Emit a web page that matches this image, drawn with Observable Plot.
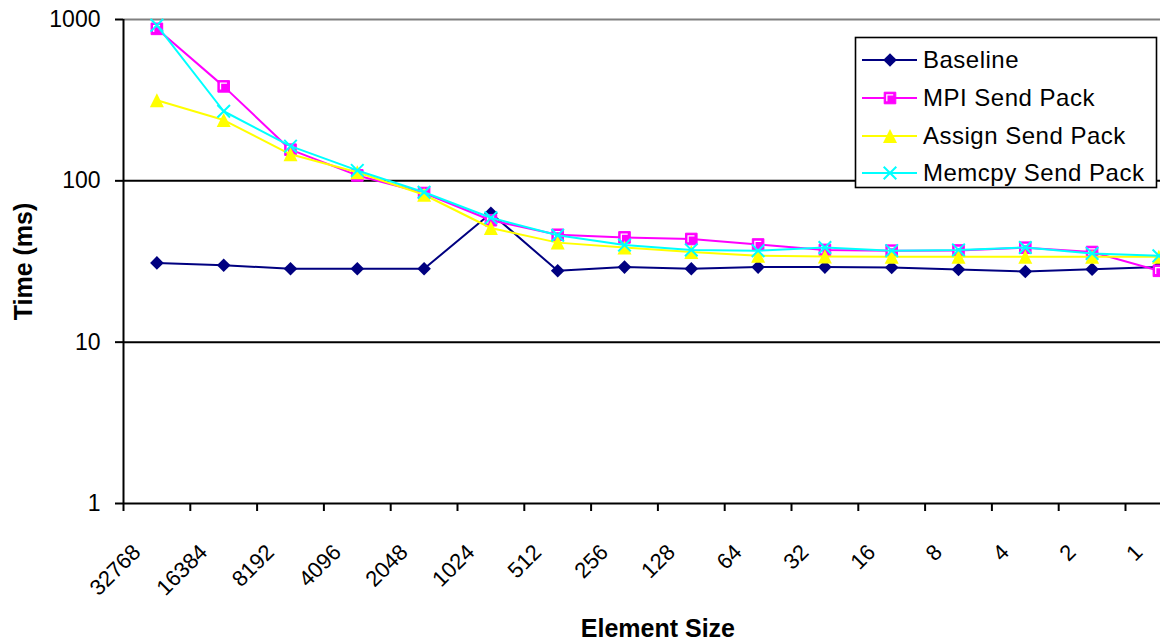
<!DOCTYPE html>
<html><head><meta charset="utf-8">
<script src="https://cdn.jsdelivr.net/npm/d3@7"></script>
<script src="https://cdn.jsdelivr.net/npm/@observablehq/plot@0.6"></script>
<style>
html,body{margin:0;padding:0;background:#fff;overflow:hidden}
#chart svg{overflow:hidden !important}
#chart [aria-label^="y-axis"] line, #chart [aria-label^="y-axis"] path,
#chart [aria-label^="x-axis"] line, #chart [aria-label^="x-axis"] path {stroke-width:2px; stroke:#000}
#chart [aria-label^="y-axis"] text {font-size:23px; fill:#000}
</style></head><body><div id="chart"></div>
<script>
const sizes = [32768,16384,8192,4096,2048,1024,512,256,128,64,32,16,8,4,2,1];
const baseline = [31, 30, 28.5, 28.5, 28.5, 63, 27.7, 29.2, 28.5, 29.2, 29.2, 29, 28.2, 27.4, 28.3, 29.2];
const mpiSendPack = [875, 385, 156, 108, 84, 57, 46.3, 44.6, 43.6, 40.3, 37.3, 36.9, 37, 38.5, 36.2, 27.7];
const assignSendPack = [316, 238, 146, 113, 82, 51, 41.4, 38.6, 36.2, 34.3, 34, 33.8, 33.8, 33.8, 33.8, 33.8];
const memcpySendPack = [920, 270, 164, 116, 85, 59, 46, 40, 37.3, 36.9, 38.6, 36.9, 37.3, 38.6, 35.5, 34.3];
const seriesNames = ["Baseline", "MPI Send Pack", "Assign Send Pack", "Memcpy Send Pack"];
const seriesValues = [baseline, mpiSendPack, assignSendPack, memcpySendPack];
const seriesColors = ["#000080", "#FF00FF", "#FFFF00", "#00FFFF"];
const yTicks = [1, 10, 100, 1000];
const xTitle = "Element Size";
const yTitle = "Time (ms)";

const font = "'Liberation Sans', Arial, sans-serif";
const R = s => Math.sqrt(s / Math.PI);
const symDiamond = {draw(c, s){const r = R(s); c.moveTo(0,-r); c.lineTo(r,0); c.lineTo(0,r); c.lineTo(-r,0); c.closePath();}};
const symSquare = {draw(c, s){const r = R(s); c.moveTo(-r,-r); c.lineTo(r,-r); c.lineTo(r,r); c.lineTo(-r,r); c.closePath();}};
const symL = {draw(c, s){const r = R(s); c.moveTo(-r, r); c.lineTo(-r,-r); c.lineTo(r,-r);}};
const symTri = {draw(c, s){const r = R(s); c.moveTo(0,-r); c.lineTo(r,r); c.lineTo(-r,r); c.closePath();}};
const symX = {draw(c, s){const r = R(s); c.moveTo(-r,-r); c.lineTo(r,r); c.moveTo(r,-r); c.lineTo(-r,r);}};

const markerSpecs = [
  [{symbol: symDiamond, r: 6.8, fill: seriesColors[0], stroke: "none"}],
  [{symbol: symSquare, r: 5.8, fill: seriesColors[1], stroke: seriesColors[1], strokeWidth: 1},
   {symbol: symL, r: 3.2, fill: "none", stroke: "#fff", strokeWidth: 1.3}],
  [{symbol: symTri, r: 7, fill: seriesColors[2], stroke: "none"}],
  [{symbol: symX, r: 6.3, fill: "none", stroke: seriesColors[3], strokeWidth: 2}]
];

const series = seriesNames.map((name, k) => seriesValues[k].map((v, i) => ({name, i, v})));
const boundaries = d3.range(sizes.length + 1).map(i => i - 0.5);

const marks = [
  Plot.ruleY([10, 100], {stroke: "#000", strokeWidth: 2}),
  Plot.ruleY([1000], {stroke: "#808080", strokeWidth: 2}),
  Plot.ruleY([1], {stroke: "#000", strokeWidth: 2}),
  Plot.ruleX([-0.5], {y1: 1, y2: 1000, stroke: "#000", strokeWidth: 2})
];
series.forEach((rows, k) => {
  marks.push(Plot.line(rows, {x: "i", y: "v", stroke: seriesColors[k], strokeWidth: 2}));
  markerSpecs[k].forEach(m => marks.push(Plot.dot(rows, {x: "i", y: "v", ...m})));
});
marks.push(Plot.text(sizes, {x: (d, i) => i, text: d => String(d), frameAnchor: "bottom", dy: 50, dx: -15,
  rotate: -45, textAnchor: "end", lineAnchor: "bottom", fontSize: 22, fill: "#000"}));
marks.push(Plot.text([xTitle], {x: () => 7.5, text: d => d, frameAnchor: "bottom", dy: 125,
  textAnchor: "middle", lineAnchor: "middle", fontSize: 25, fontWeight: "bold", fill: "#000"}));
marks.push(Plot.text([yTitle], {text: d => d, frameAnchor: "left", dx: -92, rotate: -90,
  textAnchor: "middle", lineAnchor: "bottom", fontSize: 25, fontWeight: "bold", fill: "#000"}));

const plot = Plot.plot({
  width: 1160, height: 644,
  marginLeft: 123, marginRight: 0, marginTop: 19, marginBottom: 141,
  style: {fontFamily: font, fontSize: "22px", color: "#000", background: "#fff", overflow: "hidden"},
  x: {type: "linear", domain: [-0.5, sizes.length - 0.5], range: [123, 123 + 66.8 * sizes.length],
      ticks: boundaries, tickSize: 8, tickFormat: () => "", label: null},
  y: {type: "log", domain: [1, 1000], ticks: yTicks, tickFormat: d => String(d), tickSize: 8, tickPadding: 15, label: null},
  marks
});
document.getElementById("chart").appendChild(plot);

// legend
const svg = d3.select(plot);
const lg = svg.append("g").attr("font-family", font).attr("font-size", 24)
  .attr("letter-spacing", "0.5px").attr("text-anchor", "start");
lg.append("rect").attr("x", 855.5).attr("y", 37.5).attr("width", 301).attr("height", 150)
  .attr("fill", "#fff").attr("stroke", "#000").attr("stroke-width", 1.6);
const rowY = [60, 98, 136, 173];
seriesNames.forEach((name, k) => {
  const y = rowY[k];
  lg.append("line").attr("x1", 862).attr("x2", 917).attr("y1", y).attr("y2", y)
    .attr("stroke", seriesColors[k]).attr("stroke-width", 2);
  markerSpecs[k].forEach(m => {
    lg.append("path").attr("transform", `translate(890,${y})`)
      .attr("d", d3.symbol(m.symbol, m.r * m.r * Math.PI)())
      .attr("fill", m.fill).attr("stroke", m.stroke).attr("stroke-width", m.strokeWidth || 0);
  });
  lg.append("text").attr("x", 923).attr("y", y + 8).attr("fill", "#000").attr("text-anchor", "start").text(name);
});
</script></body></html>
